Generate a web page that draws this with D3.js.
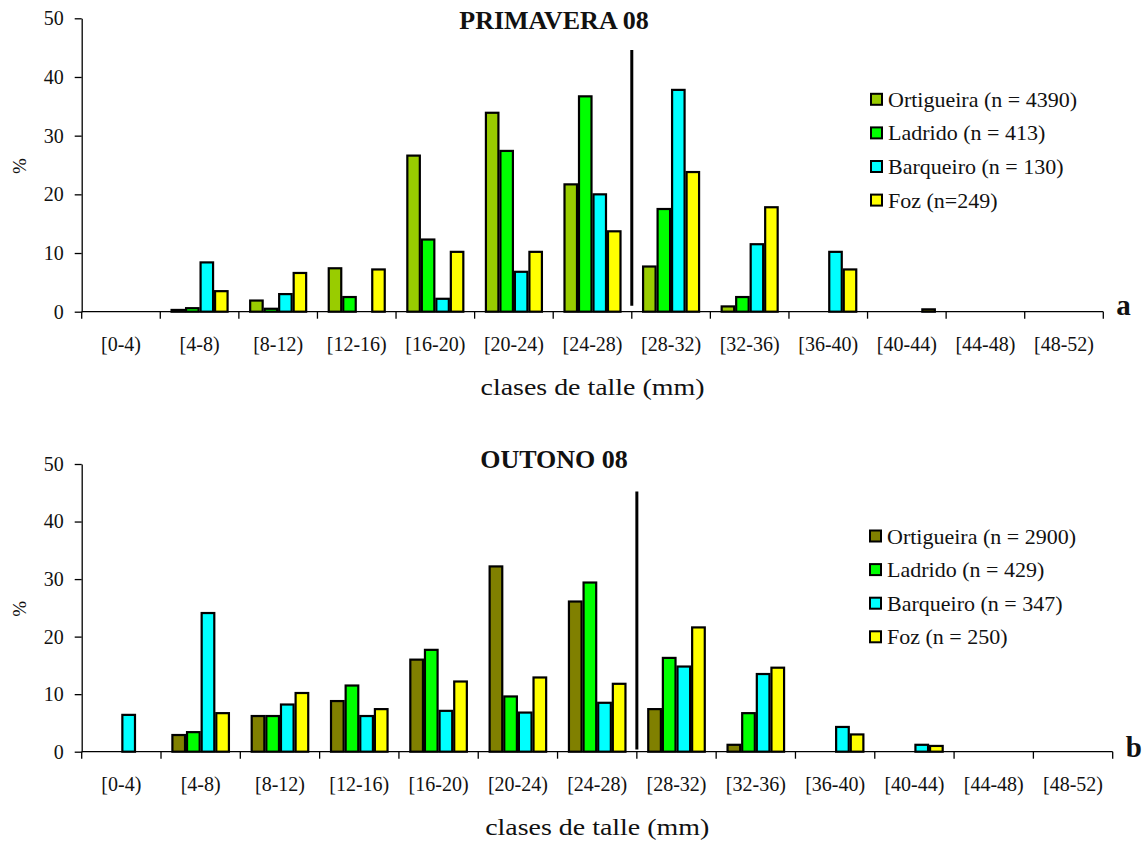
<!DOCTYPE html>
<html>
<head>
<meta charset="utf-8">
<script src="https://cdn.jsdelivr.net/npm/d3@7"></script>
<style>
  html, body { margin: 0; padding: 0; background: #fff; }
  svg { display: block; }
  text { font-family: "Liberation Serif", "Times New Roman", serif; fill: #111; }
</style>
</head>
<body>
<svg id="chart" width="1147" height="843"></svg>
<script>
// ---------- data ----------
const categories = ["[0-4)", "[4-8)", "[8-12)", "[12-16)", "[16-20)", "[20-24)", "[24-28)",
                    "[28-32)", "[32-36)", "[36-40)", "[40-44)", "[44-48)", "[48-52)"];
const yTicks = [0, 10, 20, 30, 40, 50];
const xTitle = "clases de talle (mm)";
const yTitle = "%";

// PRIMAVERA 08
const titleTop = "PRIMAVERA 08";
const namesTop = ["Ortigueira (n = 4390)", "Ladrido (n = 413)", "Barqueiro (n = 130)", "Foz (n=249)"];
const ortigueiraTop = [0, 0.3, 1.9, 7.4, 26.6, 33.9, 21.7, 7.7, 0.9, 0, 0, 0, 0];
const ladridoTop    = [0, 0.6, 0.5, 2.5, 12.3, 27.4, 36.7, 17.5, 2.5, 0, 0, 0, 0];
const barqueiroTop  = [0, 8.4, 3.0, 0, 2.2, 6.8, 20.0, 37.8, 11.5, 10.2, 0, 0, 0];
const fozTop        = [0, 3.5, 6.6, 7.2, 10.2, 10.2, 13.7, 23.8, 17.8, 7.2, 0.4, 0, 0];
const colorsTop = ["#99cc00", "#00ff00", "#00ffff", "#ffff00"];
const dividerTop = { boundary: 7, from: 44.6, to: 1.0 };

// OUTONO 08
const titleBottom = "OUTONO 08";
const namesBottom = ["Ortigueira (n = 2900)", "Ladrido (n = 429)", "Barqueiro (n = 347)", "Foz (n = 250)"];
const ortigueiraBottom = [0, 2.9, 6.2, 8.8, 16.0, 32.2, 26.1, 7.4, 1.2, 0, 0, 0, 0];
const ladridoBottom    = [0, 3.4, 6.2, 11.5, 17.7, 9.6, 29.4, 16.3, 6.7, 0, 0, 0, 0];
const barqueiroBottom  = [6.4, 24.1, 8.2, 6.2, 7.1, 6.8, 8.5, 14.8, 13.5, 4.3, 1.2, 0, 0];
const fozBottom        = [0, 6.7, 10.2, 7.4, 12.2, 12.9, 11.8, 21.6, 14.6, 3.0, 1.0, 0, 0];
const colorsBottom = ["#808000", "#00ff00", "#00ffff", "#ffff00"];
const dividerBottom = { boundary: 7, from: 45.2, to: 0.4 };

// ---------- layout ----------
const charts = [
  { title: titleTop, letter: "a", names: namesTop,
    values: [ortigueiraTop, ladridoTop, barqueiroTop, fozTop], colors: colorsTop, divider: dividerTop,
    left: 81.7, right: 1103.3, top: 18.3, bottom: 311.7,
    titleX: 554, titleY: 29, legendX: 871, legendY: 99.3, legendStep: 33.6 },
  { title: titleBottom, letter: "b", names: namesBottom,
    values: [ortigueiraBottom, ladridoBottom, barqueiroBottom, fozBottom], colors: colorsBottom, divider: dividerBottom,
    left: 81.7, right: 1112.7, top: 464, bottom: 751.7,
    titleX: 554, titleY: 468, legendX: 870, legendY: 536, legendStep: 33.6 }
];

const svg = d3.select("#chart");

charts.forEach(c => {
  const g = svg.append("g");
  const x = d3.scaleBand().domain(categories).range([c.left, c.right]).padding(0);
  const inner = d3.scaleBand().domain(d3.range(c.values.length))
    .range([0, x.bandwidth()]).paddingInner(0).paddingOuter(0.71);
  const y = d3.scaleLinear().domain([0, 50]).range([c.bottom, c.top]);

  // bars
  c.values.forEach((series, si) => {
    const data = categories.map((cat, i) => ({ cat, v: series[i] })).filter(d => d.v > 0);
    g.append("g").selectAll("rect").data(data).join("rect")
      .attr("x", d => x(d.cat) + inner(si) + 1)
      .attr("width", inner.bandwidth() - 2)
      .attr("y", d => y(d.v))
      .attr("height", d => y(0) - y(d.v))
      .attr("fill", c.colors[si])
      .attr("stroke", "#000")
      .attr("stroke-width", 2.2);
  });

  // y axis
  const yAxis = g.append("g")
    .attr("transform", `translate(${c.left},0)`)
    .call(d3.axisLeft(y).tickValues(yTicks).tickSize(7).tickSizeOuter(0).tickPadding(11));
  yAxis.select(".domain").attr("stroke", "#000").attr("stroke-width", 1.3);
  yAxis.selectAll(".tick line").attr("stroke", "#000").attr("stroke-width", 1.3);
  yAxis.selectAll(".tick text")
    .style("font-family", '"Liberation Serif", serif')
    .style("font-size", "20px").attr("fill", "#222");

  // x axis line + boundary ticks
  g.append("line")
    .attr("x1", c.left).attr("x2", c.right)
    .attr("y1", y(0)).attr("y2", y(0))
    .attr("stroke", "#000").attr("stroke-width", 1.3);
  const boundaries = d3.range(categories.length + 1).map(i => c.left + i * x.step());
  g.append("g").selectAll("line").data(boundaries).join("line")
    .attr("x1", d => d).attr("x2", d => d)
    .attr("y1", y(0)).attr("y2", y(0) + 7)
    .attr("stroke", "#000").attr("stroke-width", 1.3);

  // x tick labels
  g.append("g").selectAll("text").data(categories).join("text")
    .attr("x", d => x(d) + x.bandwidth() / 2)
    .attr("y", y(0) + 39)
    .attr("text-anchor", "middle")
    .style("font-size", "20px")
    .text(d => d);

  // x title
  g.append("text")
    .attr("x", (c.left + c.right) / 2 + 0)
    .attr("y", y(0) + 83)
    .attr("text-anchor", "middle")
    .style("font-size", "23px")
    .attr("textLength", 224)
    .attr("lengthAdjust", "spacingAndGlyphs")
    .text(xTitle);

  // y title
  g.append("text")
    .attr("transform", `translate(26,${(c.top + c.bottom) / 2 + 1}) rotate(-90)`)
    .attr("text-anchor", "middle")
    .style("font-size", "19px")
    .text(yTitle);

  // chart title
  g.append("text")
    .attr("x", c.titleX).attr("y", c.titleY)
    .attr("text-anchor", "middle")
    .style("font-size", "26px").style("font-weight", "bold")
    .text(c.title);

  // panel letter
  g.append("text")
    .attr("x", c.right + 13).attr("y", y(0) + 3 + (c.letter === "b" ? 2 : 0))
    .style("font-size", "29px").style("font-weight", "bold")
    .text(c.letter);

  // divider line
  const dx = c.left + c.divider.boundary * x.step();
  g.append("line")
    .attr("x1", dx).attr("x2", dx)
    .attr("y1", y(c.divider.from)).attr("y2", y(c.divider.to))
    .attr("stroke", "#000").attr("stroke-width", 3);

  // legend
  const lg = g.append("g").selectAll("g").data(c.names).join("g")
    .attr("transform", (d, i) => `translate(${c.legendX},${c.legendY + i * c.legendStep})`);
  lg.append("rect")
    .attr("x", 0).attr("y", -5.5).attr("width", 11).attr("height", 11)
    .attr("fill", (d, i) => c.colors[i])
    .attr("stroke", "#000").attr("stroke-width", 2);
  lg.append("text")
    .attr("x", 17).attr("y", 7.5)
    .style("font-size", "22px")
    .text(d => d);
});
</script>
</body>
</html>
